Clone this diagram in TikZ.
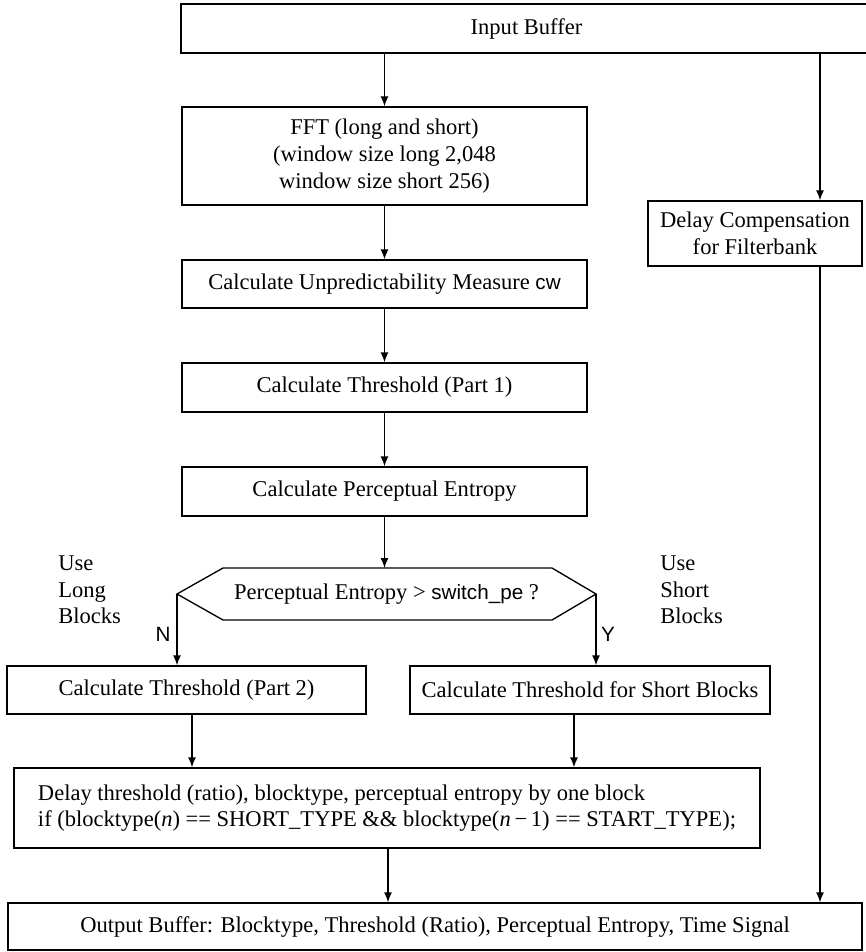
\documentclass[tikz,border=0pt]{standalone}
\usepackage{fontspec}
\setmainfont{Liberation Serif}
\newfontfamily\hvfam{Liberation Sans}
\newcommand{\hv}[1]{{\hvfam\fontsize{15.5}{18}\selectfont #1}}
\usetikzlibrary{arrows.meta}
\begin{document}
\begin{tikzpicture}[x=0.75pt,y=-0.75pt,
  font=\fontsize{16.9}{20}\selectfont,
  box/.style={draw,line width=1pt,inner sep=0pt,align=center},
  arr/.style={line width=1pt,-{Latex[length=7.5pt,width=6pt]}},
  ln/.style={line width=1pt},
  lbl/.style={inner sep=0pt,align=left}]
\useasboundingbox (0,0) rectangle (865,952);
% boxes
\node[box,minimum width=518.25pt,minimum height=36.75pt] (inbuf) at (526.5,28.5) {Input Buffer};
\node[box,minimum width=303.75pt,minimum height=73.5pt] (fft) at (384.5,156) {FFT (long and short)\\(window size long 2,048\\window size short 256)};
\node[box,minimum width=160.5pt,minimum height=48.75pt] (dcomp) at (755,233.5) {Delay Compensation\\for Filterbank};
\node[box,minimum width=303.75pt,minimum height=36pt] (cwb) at (384.5,284) {Calculate Unpredictability Measure \hv{cw}};
\node[box,minimum width=303.75pt,minimum height=36.75pt] (th1) at (384.5,387.5) {Calculate Threshold (Part 1)};
\node[box,minimum width=303.75pt,minimum height=36.75pt] (pe) at (384.5,491.5) {Calculate Perceptual Entropy};
% decision hexagon
\draw[ln] (177,594) coordinate (hl) -- (223,568) -- (552,568) -- (596,594) coordinate (hr) -- (552,620) -- (223,620) -- cycle;
\coordinate (htop) at (384.5,568);
\node[inner sep=0pt] (dec) at (386.5,594) {Perceptual Entropy \textgreater{} \hv{switch\_pe} ?};
\node[box,minimum width=269.25pt,minimum height=36pt] (th2) at (186.5,690) {Calculate Threshold (Part 2)};
\node[box,minimum width=270pt,minimum height=36pt] (ths) at (590,690) {Calculate Threshold for Short Blocks};
\node[box,align=left,minimum width=559.5pt,minimum height=60pt] (dly) at (387,808) {Delay threshold (ratio), blocktype, perceptual entropy by one block\\if (blocktype(\textit{n}) == SHORT\_TYPE \&\& blocktype(\textit{n}\,−\,1) == START\_TYPE);};
\node[box,minimum width=640.5pt,minimum height=35.25pt] (outbuf) at (435,926.5) {Output Buffer: Blocktype, Threshold (Ratio), Perceptual Entropy, Time Signal};
% labels
\node[lbl,anchor=west] (ulong) at (58,590) {Use\\Long\\Blocks};
\node[lbl,anchor=west] (ushort) at (660,590) {Use\\Short\\Blocks};
\node[inner sep=0pt] (nlab) at (163,634) {\hv{N}};
\node[inner sep=0pt] (ylab) at (608,634) {\hv{Y}};
% connectors
\coordinate (rx) at (820,0);
\coordinate (a1) at (192,0);
\coordinate (a2) at (574,0);
\coordinate (a3) at (388,0);
\draw[arr] (fft.north |- inbuf.south) -- (fft.north);
\draw[arr] (inbuf.south -| rx) -- (dcomp.north -| rx);
\draw[arr] (dcomp.south -| rx) -- (outbuf.north -| rx);
\draw[arr] (fft) -- (cwb);
\draw[arr] (cwb) -- (th1);
\draw[arr] (th1) -- (pe);
\draw[arr] (pe.south) -- (htop);
\draw[arr] (hl) -- (hl |- th2.north);
\draw[arr] (hr) -- (hr |- ths.north);
\draw[arr] (th2.south -| a1) -- (dly.north -| a1);
\draw[arr] (ths.south -| a2) -- (dly.north -| a2);
\draw[arr] (dly.south -| a3) -- (outbuf.north -| a3);
\end{tikzpicture}
\end{document}
